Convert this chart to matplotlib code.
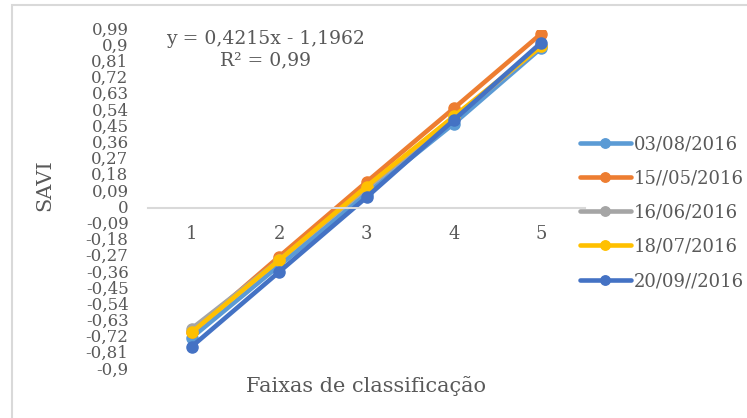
import matplotlib.pyplot as plt
from matplotlib.patches import Rectangle

# data
faixas = [1, 2, 3, 4, 5]
datas = ['03/08/2016', '15//05/2016', '16/06/2016', '18/07/2016', '20/09//2016']
savi_0308 = [-0.72, -0.32, 0.08, 0.47, 0.89]
savi_1505 = [-0.69, -0.27, 0.145, 0.555, 0.97]
savi_1606 = [-0.67, -0.29, 0.11, 0.50, 0.90]
savi_1807 = [-0.69, -0.29, 0.12, 0.51, 0.90]
savi_2009 = [-0.77, -0.355, 0.06, 0.49, 0.92]
cores = ['#5B9BD5', '#ED7D31', '#A5A5A5', '#FFC000', '#4472C4']
yticks = [-0.9, -0.81, -0.72, -0.63, -0.54, -0.45, -0.36, -0.27, -0.18, -0.09, 0,
          0.09, 0.18, 0.27, 0.36, 0.45, 0.54, 0.63, 0.72, 0.81, 0.9, 0.99]

cinza = '#595959'
plt.rcParams['font.family'] = ['DejaVu Serif']

fig = plt.figure(figsize=(7.47, 4.18), dpi=100)
fig.patches.append(Rectangle((12/747, -0.05), 1.0, 1.05 - 5/418, transform=fig.transFigure,
                             fill=False, edgecolor='#D9D9D9', linewidth=1.5))
ax = fig.add_axes([148/747, 1 - 370/418, 437/747, 340/418])

series = [savi_0308, savi_1505, savi_1606, savi_1807, savi_2009]
for vals, nome, cor in zip(series, datas, cores):
    ax.plot(faixas, vals, color=cor, lw=3.3, marker='o', ms=8, label=nome,
            solid_capstyle='round')

ax.set_xlim(0.5, 5.5)
ax.set_ylim(-0.9, 0.99)
ax.set_yticks(yticks)
ax.set_yticklabels([('%g' % v).replace('.', ',') for v in yticks])
ax.set_xticks(faixas)
for s in ['top', 'right', 'left']:
    ax.spines[s].set_visible(False)
ax.spines['bottom'].set_position(('data', 0))
ax.spines['bottom'].set_color('#D9D9D9')
ax.spines['bottom'].set_linewidth(1.5)
ax.tick_params(axis='x', length=0, pad=12, labelsize=13, labelcolor=cinza)
ax.tick_params(axis='y', length=0, pad=14, labelsize=12, labelcolor=cinza)
for lab in ax.get_yticklabels():
    lab.set_verticalalignment('center')

fig.text(45/747, 1 - 185/418, 'SAVI', rotation=90, ha='center', va='center',
         fontsize=15, color=cinza)
fig.text(366/747, 1 - 386/418, 'Faixas de classificação', ha='center', va='center',
         fontsize=15, color=cinza)
fig.text(265/747, 1 - 39/418, 'y = 0,4215x - 1,1962', ha='center', va='center',
         fontsize=13.5, color=cinza)
fig.text(265/747, 1 - 60/418, 'R² = 0,99', ha='center', va='center',
         fontsize=13.5, color=cinza)

fig.legend(loc='upper left', bbox_to_anchor=(580/747, 1 - 135/418), frameon=False,
           fontsize=13, handlelength=2.8, handletextpad=0.2, labelspacing=0.9,
           borderpad=0, borderaxespad=0, labelcolor=cinza, markerscale=0.85)

fig.savefig('out.png', dpi=100)
